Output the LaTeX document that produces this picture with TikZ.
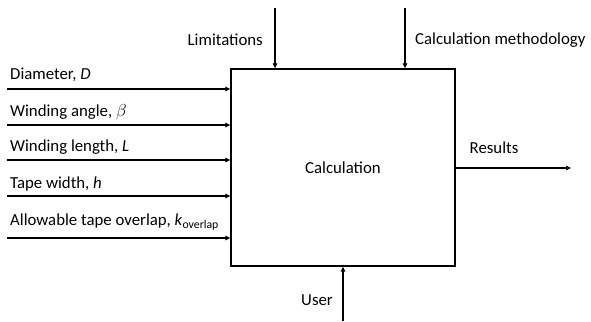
\documentclass[tikz,border=0pt]{standalone}
\usepackage{fontspec}
\setmainfont{Carlito}
\usetikzlibrary{arrows.meta}
\begin{document}
\begin{tikzpicture}[x=1pt,y=-1pt,
  conn/.style={line width=1.3pt,-{Triangle[length=5pt,width=4.5pt]}},
  lbl/.style={inner sep=0pt,font=\fontsize{16.8}{19}\selectfont},
  boxst/.style={draw,line width=1.3pt,minimum width=224pt,minimum height=197pt,inner sep=0pt}]
\useasboundingbox (0,0) rectangle (591,321);
\node[boxst,lbl] (calc) at (343,167.5) {Calculation};
% left inputs
\coordinate (s1) at (7,89);
\coordinate (s2) at (7,125);
\coordinate (s3) at (7,160);
\coordinate (s4) at (7,196);
\coordinate (s5) at (7,238);
\draw[conn] (s1) -- (s1 -| calc.west);
\draw[conn] (s2) -- (s2 -| calc.west);
\draw[conn] (s3) -- (s3 -| calc.west);
\draw[conn] (s4) -- (s4 -| calc.west);
\draw[conn] (s5) -- (s5 -| calc.west);
\node[lbl,anchor=west] (l1) at (10,75) {Diameter, \textit{D}};
\node[lbl,anchor=west] (l2) at (10,112) {Winding angle, $\beta$};
\node[lbl,anchor=west] (l3) at (10,147) {Winding length, \textit{L}};
\node[lbl,anchor=west] (l4) at (10,184) {Tape width, \textit{h}};
\node[lbl,anchor=west] (l5) at (10,222) {Allowable tape overlap, \textit{k}\textsubscript{overlap}};
% top controls
\coordinate (t1) at (275,8);
\coordinate (t2) at (405,8);
\draw[conn] (t1) -- (t1 |- calc.north);
\draw[conn] (t2) -- (t2 |- calc.north);
\node[lbl,anchor=east] (lim) at (263,40) {Limitations};
\node[lbl,anchor=west] (meth) at (415,40) {Calculation methodology};
% bottom mechanism
\coordinate (u) at (343,321);
\draw[conn] (u) -- (u |- calc.south);
\node[lbl] (user) at (317,300) {User};
% output
\coordinate (r) at (571,168);
\draw[conn] (r -| calc.east) -- (r);
\node[lbl] (res) at (494,148) {Results};
\end{tikzpicture}
\end{document}
